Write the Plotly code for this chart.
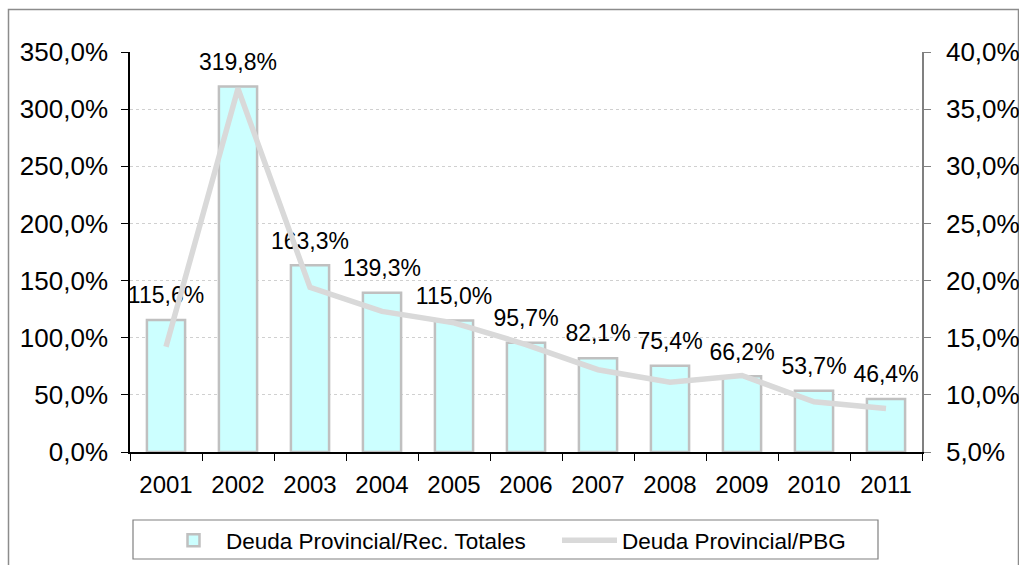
import plotly.graph_objects as go

years = ["2001", "2002", "2003", "2004", "2005", "2006", "2007", "2008", "2009", "2010", "2011"]
deuda_rec = [115.6, 319.8, 163.3, 139.3, 115.0, 95.7, 82.1, 75.4, 66.2, 53.7, 46.4]
deuda_pbg = [14.2, 36.8, 19.4, 17.3, 16.3, 14.4, 12.2, 11.1, 11.7, 9.4, 8.8]

FONT = "Liberation Sans, Arial, sans-serif"

# page body margin is removed (see post_script), figure fills the window
OFF = 0
W, H = 1019 - OFF, 565 - OFF
# target plot area in screen pixels
SX0, SX1, SY0, SY1 = 130, 922, 52, 452
L, R, T, B = SX0 - OFF, W - (SX1 - OFF), SY0 - OFF, H - (SY1 - OFF)
pw, ph = SX1 - SX0, SY1 - SY0

def sx(p):
    return (p - SX0) / pw

def sy(p):
    return (SY1 - p) / ph

fig = go.Figure()
fig.add_trace(go.Bar(
    x=years, y=deuda_rec, name="Deuda Provincial/Rec. Totales",
    marker=dict(color="#CCFFFF", line=dict(color="#C0C0C0", width=2.5)),
    width=0.53, legend="legend",
))
fig.add_trace(go.Scatter(
    x=years, y=deuda_rec, mode="markers+text", showlegend=False, hoverinfo="skip",
    marker=dict(size=16, opacity=0),
    texttemplate="%{y:.1f}%", textposition="top center",
    textfont=dict(family=FONT, size=23, color="#000000"),
    cliponaxis=False,
))
fig.add_trace(go.Scatter(
    x=years, y=deuda_pbg, name="Deuda Provincial/PBG", yaxis="y2",
    mode="lines", line=dict(color="#D9D9D9", width=5.5), legend="legend2",
))

leg_common = dict(
    orientation="h", xanchor="left", y=sy(519), yanchor="top",
    borderwidth=0, bgcolor="rgba(0,0,0,0)",
    font=dict(family=FONT, size=22.5, color="#000000"),
    itemwidth=55,
)

fig.update_layout(
    width=W, height=H,
    margin=dict(l=L, r=R, t=T, b=B, autoexpand=False),
    paper_bgcolor="white", plot_bgcolor="white",
    separators=",.",
    font=dict(family=FONT, size=24, color="#000000"),
    showlegend=True,
    legend=dict(x=sx(161), **leg_common),
    legend2=dict(x=sx(557), **leg_common),
    xaxis=dict(
        type="category", range=[-0.5, len(years) - 0.5],
        showline=True, linecolor="#000000", linewidth=1.5,
        ticks="outside", ticklen=7, tickcolor="#000000", tickson="boundaries",
        showgrid=False, tickfont=dict(size=24), ticklabelstandoff=10,
        automargin=False,
    ),
    yaxis=dict(
        range=[0, 350], dtick=50, tickformat=".1f", ticksuffix="%",
        showline=True, linecolor="#000000", linewidth=1.5,
        ticks="outside", ticklen=7, tickcolor="#000000",
        showgrid=True, gridcolor="#D0D0D0", griddash="dot", gridwidth=1,
        zeroline=False, tickfont=dict(size=26), ticklabelstandoff=8,
        automargin=False,
    ),
    yaxis2=dict(
        range=[5, 40], dtick=5, tickformat=".1f", ticksuffix="%",
        overlaying="y", side="right",
        showline=True, linecolor="#808080", linewidth=1.5,
        ticks="outside", ticklen=7, tickcolor="#808080",
        showgrid=False, zeroline=False, tickfont=dict(size=26),
        ticklabelstandoff=10, automargin=False,
    ),
    shapes=[
        dict(
            type="rect", xref="paper", yref="paper",
            x0=sx(8.5), x1=sx(1018.5), y0=sy(600), y1=sy(9.5),
            line=dict(color="#8C8C8C", width=1.5), fillcolor="rgba(0,0,0,0)", layer="below",
        ),
        dict(
            type="rect", xref="paper", yref="paper",
            x0=sx(133), x1=sx(878), y0=sy(559), y1=sy(520),
            line=dict(color="#808080", width=1.2), fillcolor="rgba(0,0,0,0)", layer="below",
        ),
    ],
)

fig.write_html(
    "out.html",
    config={"displayModeBar": False},
    post_script="document.body.style.margin='0';document.body.style.overflow='hidden';",
)
